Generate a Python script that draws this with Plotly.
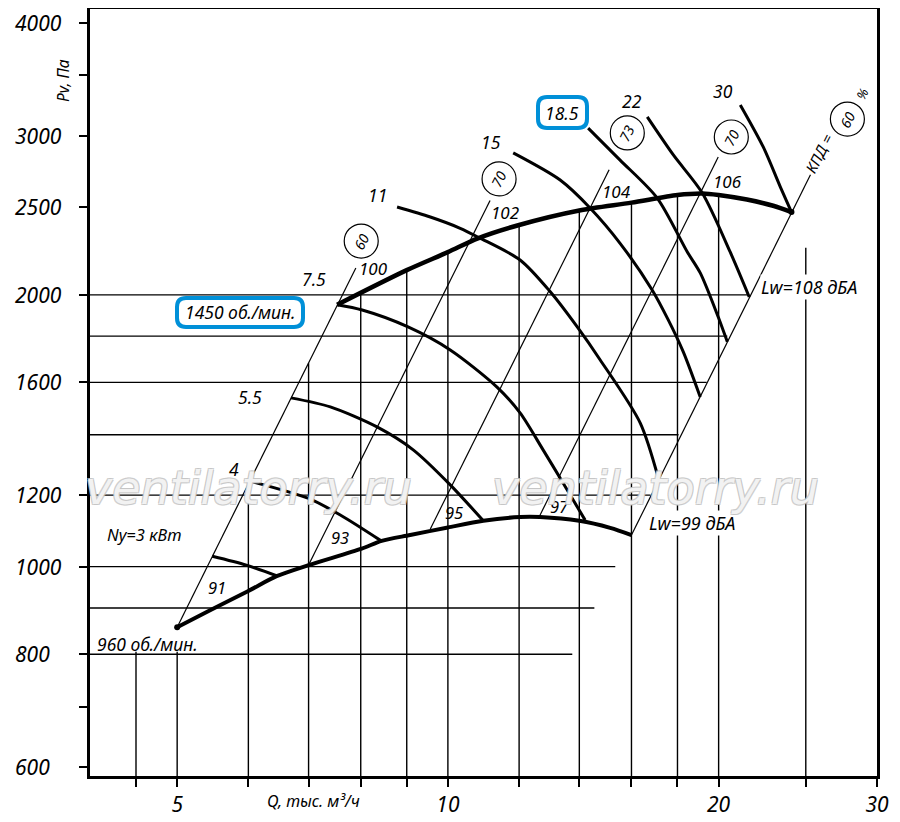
import numpy as np
import plotly.graph_objects as go

FONT = "Noto Sans"

# fan curves, Q in thousand m3/h, P in Pa
q_1450 = [7.53, 9.0, 10.0, 10.8, 12.0, 14.0, 16.0, 18.0, 19.2, 20.0, 21.5, 23.0, 24.1]
p_1450 = [1950, 2130, 2230, 2310, 2390, 2480, 2530, 2580, 2590, 2580, 2550, 2510, 2470]

q_960 = [5.0, 5.44, 6.0, 6.45, 7.0, 8.02, 8.44, 9.08, 10.0, 10.95, 12.03, 12.66, 14.0, 15.15, 16.0]
p_960 = [857, 895, 940, 976, 1004, 1047, 1068, 1084, 1105, 1124, 1135, 1135, 1124, 1104, 1084]

# motor power lines
q_n3 = [5.47, 5.97, 6.47]
p_n3 = [1027, 1004, 976]
q_n4 = [6.0, 7.0, 7.6, 8.43]
p_n4 = [1245, 1190, 1140, 1068]
q_n55 = [6.69, 7.40, 8.34, 9.15, 10.06, 10.95]
p_n55 = [1538, 1503, 1428, 1347, 1232, 1124]
q_n75 = [7.53, 8.03, 9.03, 10.06, 11.34, 12.03, 12.76, 13.43, 14.21]
p_n75 = [1950, 1924, 1843, 1738, 1581, 1480, 1347, 1238, 1126]
q_n11 = [8.78, 9.56, 10.32, 10.83, 12.03, 12.99, 13.92, 14.77, 16.36, 17.14]
p_n11 = [2502, 2439, 2370, 2314, 2186, 2017, 1844, 1694, 1443, 1253]
q_n15 = [11.82, 13.33, 14.39, 15.54, 16.87, 17.58, 18.27, 19.08]
p_n15 = [2872, 2680, 2496, 2281, 2025, 1876, 1729, 1541]
q_n185 = [14.32, 15.54, 17.09, 18.46, 19.08, 19.98, 20.45]
p_n185 = [3060, 2820, 2560, 2231, 2115, 1890, 1774]
q_n22 = [16.66, 17.81, 19.18, 20.6, 21.63]
p_n22 = [3148, 2857, 2593, 2231, 1989]
q_n30 = [21.14, 22.42, 23.42, 24.1]
p_n30 = [3246, 2916, 2634, 2470]

# efficiency / system lines (lower and upper ends)
ray_q_lo = [5.0, 7.0, 9.56, 12.63, 16.0]
ray_p_lo = [857, 1004, 1101, 1135, 1084]
ray_q_hi = [7.9, 11.14, 15.11, 19.98, 25.3]
ray_p_hi = [2142, 2544, 2751, 2842, 2716]

# drawn grid
h_p = [800, 900, 1000, 1200, 1400, 1600, 1800, 2000]
h_q_end = [13.75, 14.55, 15.35, 16.8, 18.05, 19.4, 20.45, 21.6]
v_q = [4.5, 5, 6, 7, 8, 9, 10, 12, 14, 16, 18, 20, 25]
v_p_top = [805, 805, 1240, 1680, 2010, 2130, 2230, 2390, 2480, 2530, 2580, 2580, 2255]

# efficiency circles
circ_q = [8.01, 11.4, 15.83, 20.66, 27.81]
circ_p = [2294, 2688, 3022, 2991, 3131]
circ_text = ["60", "70", "73", "70", "60"]

x_ticks = [4.5, 5, 6, 7, 8, 9, 10, 12, 14, 16, 18, 20, 25, 30]
x_ticktext = ["", "5", "", "", "", "", "10", "", "", "", "", "20", "", "30"]
y_ticks = [600, 700, 800, 1000, 1200, 1600, 2000, 2500, 3000, 3500, 4000]
y_labels = [600, 800, 1000, 1200, 1600, 2000, 2500, 3000, 4000]

fig = go.Figure()


def segs(xs0, ys0, xs1, ys1):
    xs, ys = [], []
    for a, b, c, d in zip(xs0, ys0, xs1, ys1):
        xs += [a, c, None]
        ys += [b, d, None]
    return xs, ys


gx, gy = segs([4.0] * len(h_p), h_p, h_q_end, h_p)
vx, vy = segs(v_q, [580] * len(v_q), v_q, v_p_top)
fig.add_trace(go.Scatter(x=gx + vx, y=gy + vy, mode="lines",
                         line=dict(color="black", width=1.4), hoverinfo="skip"))

rx, ry = segs(ray_q_lo, ray_p_lo, ray_q_hi, ray_p_hi)
fig.add_trace(go.Scatter(x=rx, y=ry, mode="lines",
                         line=dict(color="black", width=1.2), hoverinfo="skip"))

for q, p in [(q_n3, p_n3), (q_n4, p_n4), (q_n55, p_n55), (q_n75, p_n75),
             (q_n11, p_n11), (q_n15, p_n15), (q_n185, p_n185),
             (q_n22, p_n22), (q_n30, p_n30)]:
    fig.add_trace(go.Scatter(x=q, y=p, mode="lines",
                             line=dict(color="black", width=3, shape="spline", smoothing=0.8)))

fig.add_trace(go.Scatter(x=q_1450, y=p_1450, mode="lines",
                         line=dict(color="black", width=4.5, shape="spline", smoothing=0.8)))
fig.add_trace(go.Scatter(x=q_960, y=p_960, mode="lines",
                         line=dict(color="black", width=4, shape="spline", smoothing=0.8)))
fig.add_trace(go.Scatter(x=[q_960[0], q_1450[-1]], y=[p_960[0], p_1450[-1]],
                         mode="markers", marker=dict(color="black", size=6)))

fig.add_trace(go.Scatter(x=circ_q, y=circ_p, mode="markers",
                         marker=dict(symbol="circle-open", size=34,
                                     color="black", line=dict(width=1.2))))

# page has an 8px body margin; plot frame sits at page x 90..877, y 9..776
PX0, PX1, PY0, PY1 = 90, 877, 9, 776


def font(size, family=FONT, color="black"):
    return dict(family=family, size=size, color=color, style="italic")


def px(x):
    return (x - PX0) / (PX1 - PX0)


def py(y):
    return (PY1 - y) / (PY1 - PY0)


def lab(x, y, text, size=16, angle=0, **kw):
    # x, y are page pixels of the label centre
    return dict(x=px(x), y=py(y), xref="paper", yref="paper",
                xanchor="center", yanchor="middle",
                text=text, showarrow=False, textangle=angle, font=font(size), **kw)


anns = []
for v in y_labels:
    anns.append(dict(x=px(13), y=np.log10(v), xref="paper", yref="y",
                     text=str(v), showarrow=False, xanchor="left", yanchor="middle",
                     font=font(21)))
for q, p, t in zip(circ_q, circ_p, circ_text):
    anns.append(dict(x=np.log10(q), y=np.log10(p), xref="x", yref="y",
                     xanchor="center", yanchor="middle",
                     text=t, showarrow=False, textangle=-63, font=font(14)))

anns += [
    lab(63, 81, "Pv, Па", 15.5, -90),
    lab(313, 801, "Q, тыс. м³/ч", 16),
    lab(314, 279, "7.5", 17.5),
    lab(250, 397, "5.5", 17.5),
    lab(234, 469, "4", 17.5),
    lab(377, 195, "11", 17.5),
    lab(491, 142, "15", 17.5),
    lab(562, 113, "18.5", 17.5),
    lab(632, 101, "22", 17.5),
    lab(723, 91, "30", 17.5),
    lab(144, 534, "Ny=3 кВт", 16.5),
    lab(240, 312, "1450 об./мин.", 17.5),
    lab(147, 644, "960 об./мин.", 17.5),
    lab(217, 587, "91", 16.5),
    lab(340, 537, "93", 16.5),
    lab(454, 512, "95", 16.5),
    lab(559, 507, "97", 16.5),
    lab(373, 268, "100", 17),
    lab(505, 213, "102", 17),
    lab(616, 191, "104", 17),
    lab(727, 181, "106", 17),
    lab(819, 153, "КПД =", 15, -63),
    lab(862, 94, "%", 13, -63),
    lab(809, 287, "Lw=108 дБА", 18, bgcolor="white", borderpad=0),
    lab(692, 523, "Lw=99 дБА", 18, bgcolor="white", borderpad=0),
]
for cx in [248, 655]:
    anns.append(dict(x=px(cx), y=py(488), xref="paper", yref="paper",
                     xanchor="center", yanchor="middle",
                     text="ventilatorry.ru", showarrow=False,
                     font=dict(family="DejaVu Sans", size=46, style="italic",
                               color="rgba(255,255,255,0.8)",
                               shadow="-1px -1px 0 #c4c4c4, 1px -1px 0 #c4c4c4, "
                                      "-1px 1px 0 #c4c4c4, 1px 1px 0 #c4c4c4")))


def rbox(x0, y0, x1, y1, r):
    pts = lambda x, y: f"{px(x):.5f},{py(y):.5f}"
    return ("M" + pts(x0 + r, y0) + " L" + pts(x1 - r, y0) +
            " Q" + pts(x1, y0) + " " + pts(x1, y0 + r) +
            " L" + pts(x1, y1 - r) + " Q" + pts(x1, y1) + " " + pts(x1 - r, y1) +
            " L" + pts(x0 + r, y1) + " Q" + pts(x0, y1) + " " + pts(x0, y1 - r) +
            " L" + pts(x0, y0 + r) + " Q" + pts(x0, y0) + " " + pts(x0 + r, y0) + " Z")


shapes = [
    dict(type="path", xref="paper", yref="paper", path=rbox(177, 298, 303, 327, 9),
         line=dict(color="#0090d8", width=4), fillcolor="white", layer="above"),
    dict(type="path", xref="paper", yref="paper", path=rbox(538, 97, 587, 128, 9),
         line=dict(color="#0090d8", width=4), fillcolor="white", layer="above"),
]

axis_common = dict(type="log", showgrid=False, zeroline=False, showline=True,
                   linecolor="black", linewidth=3, mirror=True, automargin=False,
                   ticks="outside", ticklen=8, tickwidth=1.5, tickcolor="black")

fig.update_layout(
    width=892, height=814,
    margin=dict(l=PX0 - 8, r=892 - (PX1 - 8), t=PY0 - 8, b=814 - (PY1 - 8), autoexpand=False),
    paper_bgcolor="white", plot_bgcolor="white",
    showlegend=False,
    xaxis=dict(range=[np.log10(4), np.log10(30)], tickvals=x_ticks,
               ticktext=x_ticktext, tickfont=font(21), **axis_common),
    yaxis=dict(range=[2.76818, 3.61758], tickvals=y_ticks,
               showticklabels=False, **axis_common),
    annotations=anns,
    shapes=shapes,
)

fig.write_html("out.html")
